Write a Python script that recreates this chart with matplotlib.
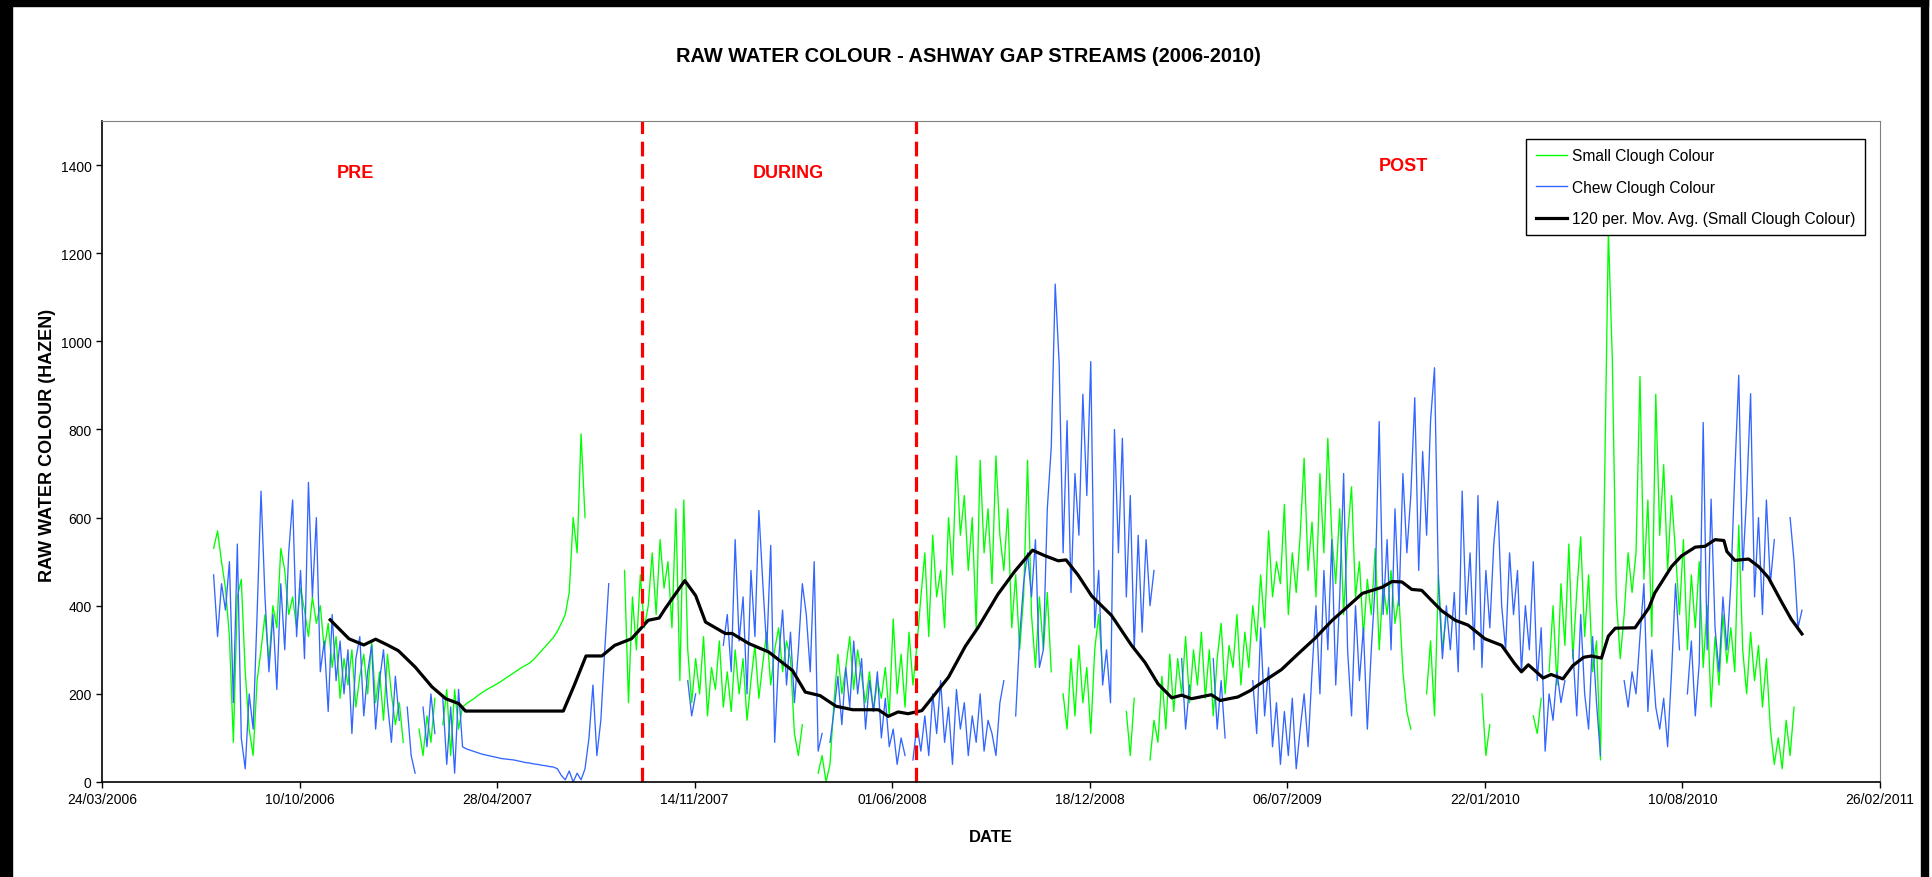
import numpy as np
import pandas as pd
import matplotlib
matplotlib.use('Agg')
import matplotlib.pyplot as plt
import matplotlib.dates as mdates
from matplotlib.patches import Rectangle
from matplotlib.lines import Line2D

nan = np.nan

# Colour readings (Hazen), one every 4 days starting 15/07/2006
start_date = '2006-07-15'
step_days = 4

small_clough = [
    530, 570, 500, 440, 330, 90, 420, 460, 250, 120,
    60, 230, 300, 380, 270, 400, 350, 530, 480, 380,
    420, 350, 440, 390, 330, 420, 360, 400, 300, 360,
    260, 330, 190, 280, 220, 300, 170, 240, 290, 200,
    320, 180, 250, 140, 290, 200, 130, 180, 90, nan,
    nan, nan, 120, 60, 150, 90, 190, nan, 130, 210,
    60, 210, 120, 170, 178, 184, 190, 197, 203, 209,
    214, 219, 224, 230, 236, 242, 248, 254, 260, 265,
    270, 278, 288, 298, 308, 318, 328, 342, 360, 380,
    430, 600, 520, 790, 600, nan, nan, nan, nan, nan,
    nan, nan, nan, nan, 480, 180, 420, 300, 470, 350,
    400, 520, 380, 550, 440, 500, 350, 620, 230, 640,
    300, 180, 280, 200, 330, 150, 260, 210, 320, 170,
    250, 160, 300, 200, 280, 140, 230, 310, 190, 270,
    340, 220, 300, 350, 250, 320, 280, 110, 60, 130,
    nan, nan, nan, 20, 60, 0, 40, 180, 290, 200,
    260, 330, 210, 300, 240, 180, 250, 160, 230, 190,
    260, 150, 370, 200, 290, 170, 340, 220, 310, 420,
    520, 330, 560, 420, 480, 350, 600, 470, 740, 560,
    650, 480, 600, 350, 730, 520, 620, 450, 740, 560,
    480, 620, 350, 470, 300, 420, 730, 380, 260, 420,
    300, 430, 250, nan, nan, 200, 120, 280, 150, 310,
    180, 260, 110, 300, 380, 250, nan, nan, nan, nan,
    nan, 160, 60, 190, nan, nan, nan, 50, 140, 90,
    240, 120, 290, 160, 280, 200, 330, 180, 300, 220,
    340, 190, 300, 150, 280, 360, 200, 310, 260, 380,
    220, 340, 260, 400, 320, 470, 350, 570, 420, 500,
    450, 630, 380, 520, 430, 560, 735, 480, 590, 420,
    700, 520, 780, 560, 450, 620, 380, 560, 670, 420,
    500, 330, 460, 380, 530, 300, 450, 380, 480, 360,
    420, 250, 160, 120, nan, nan, nan, 200, 320, 150,
    470, 300, 380, nan, nan, nan, nan, nan, nan, nan,
    nan, 200, 60, 130, nan, nan, nan, nan, nan, nan,
    nan, nan, nan, nan, 150, 110, 190, nan, 250, 400,
    220, 450, 310, 540, 280, 430, 556, 330, 470, 250,
    320, 50, 650, 1250, 960, 420, 280, 380, 520, 430,
    520, 920, 460, 640, 330, 880, 560, 720, 480, 650,
    520, 380, 550, 300, 470, 350, 500, 260, 400, 170,
    330, 220, 380, 270, 350, 250, 583, 300, 200, 340,
    230, 310, 170, 280, 120, 40, 100, 30, 140, 60,
    170, nan, 60,
]

chew_clough = [
    470, 330, 450, 390, 500, 180, 540, 100, 30, 200,
    120, 380, 660, 420, 250, 380, 210, 450, 300, 520,
    640, 330, 480, 280, 680, 420, 600, 250, 320, 160,
    380, 230, 320, 200, 300, 110, 280, 330, 150, 250,
    310, 120, 230, 300, 180, 90, 240, 140, nan, 170,
    60, 20, nan, 170, 80, 200, 110, nan, 190, 40,
    170, 20, 210, 80, 75, 72, 69, 66, 63, 61,
    59, 57, 55, 53, 52, 51, 50, 48, 46, 44,
    43, 41, 40, 38, 37, 35, 34, 30, 15, 5,
    25, 0, 20, 5, 30, 100, 220, 60, 140, 300,
    450, nan, nan, nan, nan, nan, nan, nan, nan, nan,
    nan, nan, nan, nan, nan, nan, nan, nan, nan, nan,
    230, 150, 200, nan, nan, nan, nan, nan, nan, 310,
    380, 250, 550, 320, 420, 200, 480, 330, 616, 450,
    300, 537, 90, 280, 390, 220, 340, 180, 300, 450,
    380, 250, 500, 70, 110, nan, 90, 160, 240, 130,
    260, 170, 320, 200, 280, 120, 230, 160, 250, 100,
    190, 80, 120, 40, 100, 60, nan, 50, 130, 70,
    150, 60, 200, 110, 230, 90, 170, 40, 210, 120,
    180, 60, 150, 90, 200, 70, 140, 110, 60, 180,
    230, nan, nan, 150, 330, 450, 520, 420, 550, 260,
    300, 620, 760, 1130, 950, 520, 820, 430, 700, 560,
    880, 650, 954, 350, 480, 220, 300, 180, 800, 520,
    780, 420, 650, 300, 560, 340, 550, 400, 480, nan,
    nan, nan, nan, nan, nan, 280, 120, 220, nan, nan,
    nan, nan, nan, 280, 120, 230, 100, nan, nan, nan,
    nan, nan, nan, 230, 110, 350, 150, 260, 80, 180,
    40, 160, 60, 190, 30, 120, 200, 80, 250, 400,
    200, 480, 300, 550, 220, 420, 700, 300, 150, 400,
    230, 350, 120, 300, 450, 818, 380, 550, 300, 620,
    400, 700, 520, 650, 872, 480, 750, 560, 820, 940,
    450, 280, 400, 300, 430, 250, 660, 380, 520, 300,
    650, 260, 480, 350, 540, 637, 400, 300, 520, 380,
    480, 250, 400, 300, 500, 230, 350, 70, 200, 140,
    250, 180, 230, nan, 300, 150, 380, 200, 120, 330,
    180, 60, nan, nan, nan, nan, nan, 230, 170, 250,
    200, 330, 450, 160, 300, 170, 120, 190, 80, 250,
    450, 300, nan, 200, 320, 150, 270, 816, 300, 642,
    350, 250, 420, 300, 450, 700, 923, 480, 650, 881,
    420, 600, 380, 640, 450, 550, nan, nan, nan, 600,
    500, 350, 390,
]

# 120 per. moving average of Small Clough (days after 24/03/2006, value)
ma_days = [231, 250, 265, 277, 289, 300, 317, 334, 348, 361, 368, 467, 478, 490,
           506, 519, 536, 553, 564, 570, 590, 601, 611, 631, 638, 655, 675, 699,
           712, 727, 743, 760, 786, 796, 806, 816, 830, 840, 857, 874, 887, 907,
           924, 942, 954, 968, 976, 988, 1002, 1022, 1042, 1056, 1069, 1083, 1093,
           1103, 1123, 1132, 1150, 1163, 1167, 1194, 1211, 1228, 1245, 1262, 1276,
           1296, 1306, 1316, 1326, 1336, 1356, 1370, 1383, 1400, 1417, 1430, 1437,
           1444, 1459, 1467, 1479, 1489, 1500, 1508, 1518, 1525, 1532, 1552, 1566,
           1572, 1589, 1599, 1613, 1623, 1633, 1642, 1645, 1653, 1667, 1677, 1687,
           1700, 1710, 1721]
ma_vals = [368, 325, 311, 324, 311, 298, 261, 216, 189, 178, 161, 161, 219, 286,
           286, 310, 325, 367, 372, 393, 457, 423, 363, 337, 337, 314, 295, 253,
           204, 196, 172, 164, 164, 149, 159, 155, 162, 190, 238, 308, 351, 426,
           478, 526, 514, 502, 504, 470, 422, 378, 311, 271, 223, 191, 197,
           189, 198, 185, 193, 208, 215, 255, 291, 326, 366, 400, 428,
           442, 455, 454, 437, 435, 389, 367, 356, 325, 310, 269, 250,
           266, 236, 244, 234, 264, 283, 286, 281, 331, 349, 350, 395,
           429, 489, 513, 533, 535, 550, 548, 523, 503, 506, 489, 464,
           410, 370, 336]

axis_origin = pd.Timestamp('2006-03-24')
phase_change_days = [547, 824]
phase_labels = ['PRE', 'DURING', 'POST']
yticks = [0, 200, 400, 600, 800, 1000, 1200, 1400]

dates = pd.date_range(start_date, periods=len(small_clough), freq=f'{step_days}D')
ma_dates = axis_origin + pd.to_timedelta(ma_days, unit='D')
change_dates = axis_origin + pd.to_timedelta(phase_change_days, unit='D')

W, H = 1933, 878
fig = plt.figure(figsize=(W / 100, H / 100), dpi=100)
plt.rcParams['font.family'] = ['Liberation Sans', 'DejaVu Sans']
ax = fig.add_axes([102 / W, 1 - 783 / H, (1880 - 102) / W, (783 - 122) / H])

green = '#00ff00'
blue = '#3366ff'
ax.plot(dates, small_clough, color=green, lw=0.95)
ax.plot(dates, chew_clough, color=blue, lw=0.95)
ax.plot(ma_dates, ma_vals, color='black', lw=2.3, solid_joinstyle='round')

# start / end of works
for d in change_dates:
    ax.plot([d, d], [0, 1500], color='red', lw=2.3, dashes=(4.6, 2.4))

label_x = axis_origin + pd.to_timedelta([257, 695, 1318], unit='D')
label_y = [1382, 1382, 1398]
for x, y, t in zip(label_x, label_y, phase_labels):
    ax.text(x, y, t, color='red', fontsize=13, fontweight='bold', ha='center', va='center')

ax.set_ylim(0, 1500)
ax.set_yticks(yticks)
ax.set_xlim(axis_origin, pd.Timestamp('2011-02-26'))
ax.set_xticks(pd.date_range(axis_origin, '2011-02-26', freq='200D'))
ax.xaxis.set_major_formatter(mdates.DateFormatter('%d/%m/%Y'))
ax.tick_params(axis='both', labelsize=10, direction='out', length=4, width=1, colors='black')
for s in ['top', 'right']:
    ax.spines[s].set_color('#808080')
for s in ['left', 'bottom']:
    ax.spines[s].set_color('black')
    ax.spines[s].set_linewidth(1.2)

handles = [Line2D([], [], color=green, lw=1),
           Line2D([], [], color=blue, lw=1),
           Line2D([], [], color='black', lw=2.3)]
leg = ax.legend(handles, ['Small Clough Colour', 'Chew Clough Colour',
                          '120 per. Mov. Avg. (Small Clough Colour)'],
                loc='upper right',
                bbox_to_anchor=((1865 - 102) / (1880 - 102), (783 - 140) / 661),
                borderaxespad=0, fontsize=11.2, handlelength=2.0, handletextpad=0.35,
                labelspacing=1.05, fancybox=False, framealpha=1, edgecolor='black',
                borderpad=0.6)
leg.get_frame().set_linewidth(1)

fig.text(968 / W, 1 - 57 / H, 'RAW WATER COLOUR - ASHWAY GAP STREAMS (2006-2010)',
         fontsize=14.4, fontweight='bold', ha='center', va='center')
fig.text(48 / W, 1 - 445 / H, 'RAW WATER COLOUR (HAZEN)', fontsize=13,
         fontweight='bold', rotation=90, ha='center', va='center')
fig.text(991 / W, 1 - 838 / H, 'DATE', fontsize=12, fontweight='bold', ha='center', va='center')

# outer black frame
fig.add_artist(Rectangle((0, 0), 12 / W, 1, transform=fig.transFigure, color='black'))
fig.add_artist(Rectangle((0, 1 - 7 / H), 1928 / W, 7 / H, transform=fig.transFigure, color='black'))
fig.add_artist(Rectangle((1921 / W, 0), 7 / W, 1, transform=fig.transFigure, color='black'))

fig.savefig('out.png', dpi=100)
